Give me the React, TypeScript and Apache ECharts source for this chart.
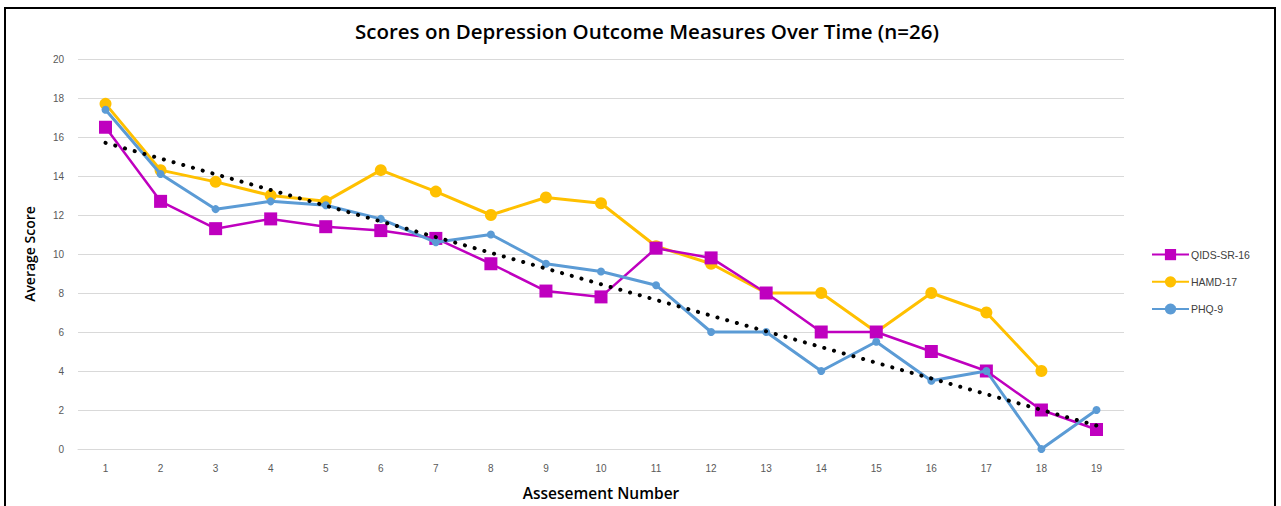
import React, { useEffect, useRef } from "react";
import * as echarts from "echarts";

const categories = ["1","2","3","4","5","6","7","8","9","10","11","12","13","14","15","16","17","18","19"];
const qids = [16.5, 12.7, 11.3, 11.8, 11.4, 11.2, 10.8, 9.5, 8.1, 7.8, 10.3, 9.8, 8, 6, 6, 5, 4, 2, 1];
const hamd = [17.7, 14.3, 13.7, 13.0, 12.7, 14.3, 13.2, 12.0, 12.9, 12.6, 10.4, 9.5, 8, 8, 6, 8, 7, 4, null];
const phq = [17.4, 14.1, 12.3, 12.7, 12.5, 11.8, 10.6, 11.0, 9.5, 9.1, 8.4, 6, 6, 4, 5.5, 3.5, 4, 0, 2];
const trendEnds = [15.7, 1.2];

export default function App() {
  const ref = useRef<HTMLDivElement>(null);
  useEffect(() => {
    document.body.style.margin = "0";
    const chart = echarts.init(ref.current!, null, { renderer: "svg" });
    const trendData = categories.map((_, i) =>
      i === 0 ? trendEnds[0] : i === categories.length - 1 ? trendEnds[1] : null
    );
    const font = "'Liberation Sans', Arial, sans-serif";
    const titleFont = "'Open Sans', 'Liberation Sans', sans-serif";
    chart.setOption({
      animation: false,
      backgroundColor: "#ffffff",
      textStyle: { fontFamily: font },
      title: {
        text: "Scores on Depression Outcome Measures Over Time (n=26)",
        left: 642,
        textAlign: "center",
        top: 15,
        textStyle: { fontSize: 20.5, fontWeight: 600, color: "#000000", fontFamily: titleFont },
      },
      graphic: [
        {
          type: "rect",
          shape: { x: 5, y: 8, width: 1270, height: 520 },
          style: { fill: "none", stroke: "#000000", lineWidth: 2 },
          silent: true,
        },
      ],
      legend: {
        orient: "vertical",
        left: 1146,
        top: 244,
        itemGap: 16,
        itemWidth: 37,
        itemHeight: 14,
        data: ["QIDS-SR-16", "HAMD-17", "PHQ-9"],
        textStyle: { fontSize: 10.5, color: "#404040", fontFamily: font, padding: [0, 0, 0, -3] },
      },
      grid: { left: 78, right: 157, top: 59, bottom: 57 },
      xAxis: {
        type: "category",
        data: categories,
        boundaryGap: true,
        name: "Assesement Number",
        nameLocation: "middle",
        nameGap: 36,
        nameTextStyle: { fontSize: 15.5, fontWeight: 600, color: "#000000", fontFamily: titleFont },
        axisLine: { lineStyle: { color: "#d9d9d9", width: 1 } },
        axisTick: { show: false },
        axisLabel: { fontSize: 10, color: "#595959", margin: 14 },
      },
      yAxis: {
        type: "value",
        min: 0,
        max: 20,
        interval: 2,
        name: "Average Score",
        nameLocation: "middle",
        nameGap: 42,
        nameTextStyle: { fontSize: 14, fontWeight: 600, color: "#000000", fontFamily: titleFont },
        axisLine: { show: false },
        axisTick: { show: false },
        axisLabel: { fontSize: 10, color: "#595959", margin: 14 },
        splitLine: { lineStyle: { color: "#d9d9d9", width: 1 } },
      },
      series: [
        {
          name: "QIDS-SR-16",
          type: "line",
          data: qids,
          symbol: "rect",
          symbolSize: 13,
          itemStyle: { color: "#BF00BF" },
          lineStyle: { color: "#BF00BF", width: 2.5 },
          z: 3,
        },
        {
          name: "HAMD-17",
          type: "line",
          data: hamd,
          symbol: "circle",
          symbolSize: 12,
          itemStyle: { color: "#FFC000" },
          lineStyle: { color: "#FFC000", width: 3 },
          z: 2,
        },
        {
          name: "PHQ-9",
          type: "line",
          data: phq,
          symbol: "circle",
          symbolSize: 8,
          itemStyle: { color: "#5B9BD5" },
          lineStyle: { color: "#5B9BD5", width: 3 },
          z: 4,
        },
        {
          name: "Trend",
          type: "line",
          data: trendData,
          connectNulls: true,
          symbol: "none",
          lineStyle: { color: "#000000", width: 4, type: [0.1, 10], cap: "round" },
          z: 5,
        },
      ],
    });
    return () => chart.dispose();
  }, []);
  return <div ref={ref} style={{ width: 1281, height: 506 }} />;
}
